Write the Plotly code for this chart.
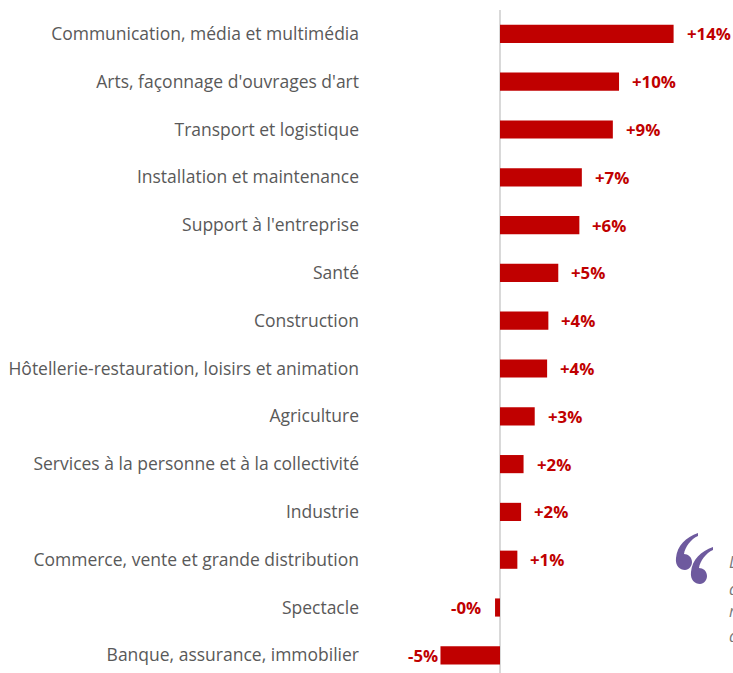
import plotly.graph_objects as go

categories = [
    "Communication, média et multimédia",
    "Arts, façonnage d'ouvrages d'art",
    "Transport et logistique",
    "Installation et maintenance",
    "Support à l'entreprise",
    "Santé",
    "Construction",
    "Hôtellerie-restauration, loisirs et animation",
    "Agriculture",
    "Services à la personne et à la collectivité",
    "Industrie",
    "Commerce, vente et grande distribution",
    "Spectacle",
    "Banque, assurance, immobilier",
]
values = [14.0, 9.6, 9.1, 6.6, 6.4, 4.7, 3.9, 3.8, 2.8, 1.9, 1.7, 1.4, -0.4, -4.8]
labels = ["+14%", "+10%", "+9%", "+7%", "+6%", "+5%", "+4%", "+4%", "+3%", "+2%", "+2%", "+1%", "-0%", "-5%"]

RED = "#C00000"
PURPLE = "#6E5A9E"

W, H = 733, 673
ML, MR, MT, MB = 370, 0, 10, 0
pw, ph = W - ML - MR, H - MT - MB


def px2paper(x, y):
    return (x - ML) / pw, 1 - (y - MT) / ph


fig = go.Figure()
fig.add_trace(go.Bar(
    x=values, y=categories, orientation="h",
    marker=dict(color=RED, line=dict(width=0)),
    hoverinfo="skip",
))

annotations = []
for c, v, t in zip(categories, values, labels):
    neg = v < 0
    annotations.append(dict(
        x=v, y=c, xref="x", yref="y", text="<b>%s</b>" % t, showarrow=False,
        xanchor="right" if neg else "left",
        xshift=(-12 if v > -1 else 0) if neg else 11,
        font=dict(family="Open Sans", size=16.8, color=RED),
    ))

# cut-off italic text at the right edge (only first letters visible)
for letter, yy in [("L", 575), ("d", 602), ("r", 624), ("d", 649)]:
    px, py = px2paper(727, yy)
    annotations.append(dict(
        x=px, y=py, xref="paper", yref="paper", text="<i>%s</i>" % letter,
        showarrow=False, xanchor="left",
        font=dict(family="Open Sans", size=16, color="#777777"),
    ))

# decorative opening quote mark drawn as a path (local pixel coordinates)
mark = [("M", [(22, 0)]),
        ("C", [(10, 4), (1, 13), (0, 25)]),
        ("C", [(-1, 33), (4, 37), (9, 37)]),
        ("C", [(13, 37), (16, 33), (16, 29)]),
        ("C", [(16, 24), (12, 21), (8, 21)]),
        ("C", [(9, 14), (15, 6), (22, 3)]),
        ("Z", [])]


def mark_path(ox, oy):
    parts = []
    for cmd, pts in mark:
        coords = []
        for (x, y) in pts:
            a, b = px2paper(ox + x, oy + y)
            coords.append("%.5f,%.5f" % (a, b))
        parts.append(cmd + " " + " ".join(coords))
    return " ".join(parts)


shapes = []
for ox, oy in [(676, 533), (691, 547)]:
    shapes.append(dict(type="path", xref="paper", yref="paper",
                       path=mark_path(ox, oy), fillcolor=PURPLE,
                       line=dict(width=0), layer="above"))

px_per = 12.4
fig.update_layout(
    width=W, height=H,
    margin=dict(l=ML, r=MR, t=MT, b=MB),
    plot_bgcolor="white", paper_bgcolor="white",
    showlegend=False,
    bargap=0.62,
    annotations=annotations,
    shapes=shapes,
    xaxis=dict(
        range=[(ML - 500) / px_per, (W - MR - 500) / px_per],
        showgrid=False, showticklabels=False, zeroline=True,
        zerolinecolor="#D9D9D9", zerolinewidth=2, fixedrange=True,
    ),
    yaxis=dict(
        range=[13.37, -0.5], showgrid=False, zeroline=False,
        ticks="", ticklabelstandoff=10, fixedrange=True,
        tickfont=dict(family="Open Sans", size=17.5, color="#595959"),
    ),
)
fig.write_html("out.html", config={"displayModeBar": False},
               post_script="document.body.style.margin='0px';")
